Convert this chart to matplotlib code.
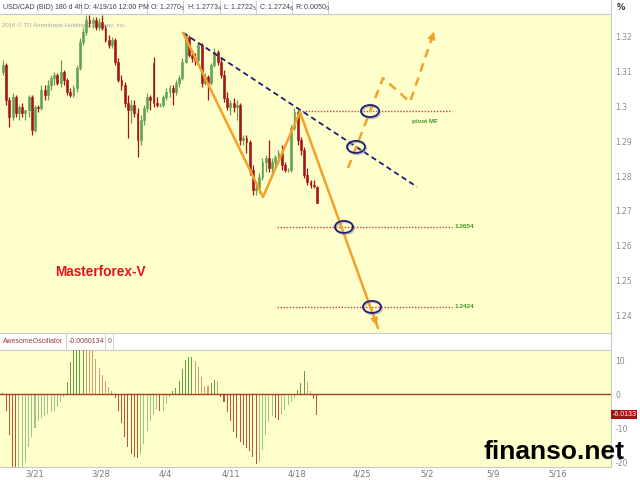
import matplotlib
matplotlib.use("Agg")
import matplotlib.pyplot as plt
import numpy as np
from matplotlib.patches import Ellipse
from matplotlib.lines import Line2D

# USD/CAD 4h candles, oldest first
opens = [1.3099, 1.3119, 1.3019, 1.2970, 1.3027, 1.2981, 1.2999, 1.2981, 1.2990, 1.3027,
         1.2933, 1.2999, 1.2996, 1.3048, 1.3033, 1.3062, 1.3082, 1.3091, 1.3068, 1.3099,
         1.3076, 1.3042, 1.3033, 1.3053, 1.3111, 1.3186, 1.3214, 1.3249, 1.3240, 1.3249,
         1.3229, 1.3243, 1.3226, 1.3191, 1.3177, 1.3191, 1.3128, 1.3076, 1.3062, 1.3010,
         1.2990, 1.3004, 1.2981, 1.2904, 1.2961, 1.2996, 1.3027, 1.3125, 1.3010, 1.3004,
         1.3004, 1.3027, 1.3042, 1.3053, 1.3042, 1.3068, 1.3082, 1.3128, 1.3200, 1.3148,
         1.3140, 1.3134, 1.3177, 1.3068, 1.3085, 1.3068, 1.3119, 1.3157, 1.3128, 1.3091,
         1.3025, 1.2999, 1.3010, 1.2999, 1.3004, 1.2904, 1.2910, 1.2898, 1.2818, 1.2760,
         1.2766, 1.2797, 1.2841, 1.2852, 1.2823, 1.2841, 1.2855, 1.2866, 1.2832, 1.2818,
         1.2818, 1.2938, 1.2984, 1.2904, 1.2875, 1.2803, 1.2783, 1.2774, 1.2770]
highs = [1.3134, 1.3125, 1.3027, 1.3039, 1.3033, 1.3004, 1.3010, 1.2990, 1.3033, 1.3033,
         1.3004, 1.3004, 1.3062, 1.3062, 1.3076, 1.3091, 1.3099, 1.3096, 1.3134, 1.3105,
         1.3082, 1.3053, 1.3062, 1.3119, 1.3197, 1.3226, 1.3263, 1.3263, 1.3257, 1.3257,
         1.3255, 1.3263, 1.3235, 1.3206, 1.3200, 1.3197, 1.3140, 1.3091, 1.3070, 1.3033,
         1.3019, 1.3019, 1.2996, 1.2976, 1.3004, 1.3039, 1.3033, 1.3142, 1.3027, 1.3010,
         1.3033, 1.3053, 1.3062, 1.3062, 1.3076, 1.3091, 1.3140, 1.3212, 1.3206, 1.3163,
         1.3154, 1.3183, 1.3183, 1.3096, 1.3091, 1.3125, 1.3168, 1.3163, 1.3140, 1.3105,
         1.3042, 1.3019, 1.3025, 1.3019, 1.3010, 1.2918, 1.2918, 1.2904, 1.2832, 1.2774,
         1.2809, 1.2852, 1.2861, 1.2904, 1.2852, 1.2861, 1.2875, 1.2889, 1.2841, 1.2823,
         1.2947, 1.2996, 1.2990, 1.2912, 1.2884, 1.2823, 1.2789, 1.2789, 1.2773]
lows = [1.3091, 1.3004, 1.2941, 1.2961, 1.2970, 1.2961, 1.2970, 1.2961, 1.2970, 1.2918,
        1.2927, 1.2984, 1.2990, 1.3019, 1.3019, 1.3048, 1.3062, 1.3062, 1.3056, 1.3062,
        1.3033, 1.3027, 1.3027, 1.3042, 1.3105, 1.3177, 1.3206, 1.3229, 1.3226, 1.3220,
        1.3220, 1.3220, 1.3186, 1.3168, 1.3168, 1.3119, 1.3070, 1.3048, 1.2999, 1.2910,
        1.2953, 1.2970, 1.2855, 1.2889, 1.2947, 1.2984, 1.2990, 1.2999, 1.2999, 1.2999,
        1.2999, 1.3019, 1.3027, 1.3004, 1.3033, 1.3056, 1.3076, 1.3125, 1.3142, 1.3128,
        1.3119, 1.3125, 1.3056, 1.3062, 1.3019, 1.3062, 1.3114, 1.3119, 1.3082, 1.3013,
        1.2990, 1.2976, 1.2984, 1.2961, 1.2889, 1.2889, 1.2866, 1.2803, 1.2746, 1.2746,
        1.2751, 1.2789, 1.2812, 1.2812, 1.2803, 1.2823, 1.2838, 1.2818, 1.2812, 1.2812,
        1.2812, 1.2933, 1.2889, 1.2861, 1.2795, 1.2774, 1.2766, 1.2766, 1.2722]
closes = [1.3119, 1.3019, 1.2970, 1.3027, 1.2981, 1.2999, 1.2981, 1.2990, 1.3027, 1.2933,
          1.2999, 1.2996, 1.3048, 1.3033, 1.3062, 1.3082, 1.3091, 1.3068, 1.3099, 1.3076,
          1.3042, 1.3033, 1.3053, 1.3111, 1.3186, 1.3214, 1.3249, 1.3240, 1.3249, 1.3229,
          1.3243, 1.3226, 1.3191, 1.3177, 1.3191, 1.3128, 1.3076, 1.3062, 1.3010, 1.2990,
          1.3004, 1.2981, 1.2904, 1.2961, 1.2996, 1.3027, 1.3019, 1.3010, 1.3004, 1.3004,
          1.3027, 1.3042, 1.3053, 1.3042, 1.3068, 1.3082, 1.3128, 1.3200, 1.3148, 1.3140,
          1.3134, 1.3177, 1.3068, 1.3085, 1.3068, 1.3119, 1.3157, 1.3128, 1.3091, 1.3025,
          1.2999, 1.3010, 1.2999, 1.3004, 1.2904, 1.2910, 1.2898, 1.2818, 1.2760, 1.2766,
          1.2797, 1.2841, 1.2852, 1.2823, 1.2841, 1.2855, 1.2866, 1.2832, 1.2818, 1.2818,
          1.2938, 1.2984, 1.2904, 1.2875, 1.2803, 1.2783, 1.2774, 1.2772, 1.2724]

# Awesome Oscillator, one value per candle (x 1e-4)
ao = [0.5, -5, -12, -22, -24, -24, -23, -20, -15.5, -12.5,
      -10, -8, -7, -6.3, -5.8, -5.3, -4.8, -3.7, -2.2, -0.8,
      3.5, 9.5, 15, 17, 18, 18, 17, 15, 13.5, 10.5,
      7.8, 5.6, 3.8, 2, 1, -1, -5, -8.5, -12.5, -15.5,
      -17.5, -18.6, -18.7, -17.5, -14.5, -10.7, -7.8, -6, -4.5, -5,
      -5, -3, -0.8, 0.8, 1.8, 4, 7.5, 10, 10.8, 10.8,
      9.8, 8, 5, 2.5, 2.3, 3.3, 4.1, 3.8, -0.8, -2.3,
      -5.3, -8, -11, -13, -14, -15, -15.8, -16.8, -18.6, -20.5,
      -20, -16.5, -12, -8.2, -6.5, -7, -7.7, -6.2, -4.5, -3.3,
      -2.2, -1.2, 1.3, 3.3, 6.8, 3.7, 1, -1.5, -6.0134]

# x axis is days counted from 3/21
date_ticks = [0, 7, 14, 21, 28, 35, 42, 49, 56]
date_labels = ['3/21', '3/28', '4/4', '4/11', '4/18', '4/25', '5/2', '5/9', '5/16']
price_ticks = [1.24, 1.25, 1.26, 1.27, 1.28, 1.29, 1.30, 1.31, 1.32]
price_labels = ['1.24', '1.25', '1.26', '1.27', '1.28', '1.29', '1.3', '1.31', '1.32']
ao_ticks = [10, 0, -10, -20]
ao_labels = ['10', '0', '-10', '-20']

# drawn analysis: (day, price)
wave_days = [15.85, 24.41, 28.37, 36.72]
wave_prices = [1.3212, 1.2740, 1.2984, 1.2363]
trend_days = [15.85, 40.90]
trend_prices = [1.3212, 1.2769]
alt_days = [33.51, 37.26, 40.15, 42.83]
alt_prices = [1.2823, 1.3082, 1.3013, 1.3223]
level_prices = [1.2987, 1.2654, 1.2424]
level_starts = [28.59, 25.91, 25.91]
level_end = 44.7
level_texts = ['pivot MF', '1.2654', '1.2424']
level_text_days = [40.4, 44.97, 44.97]
level_text_prices = [1.2956, 1.2654, 1.2424]
circle_days = [35.87, 34.37, 33.08, 36.08]
circle_prices = [1.2987, 1.2884, 1.2654, 1.2424]

first_bar = -3.43
bar_step = 0.343

W, H = 640, 480
YELLOW = '#ffffcc'
RED = '#a31515'
GREEN = '#62a052'
ORANGE = '#f4a127'
NAVY = '#1e1e78'
GRID = '#c9c9c9'
SANS = 'Liberation Sans'

def fx(px):
    return px / W

def fy(py):
    return 1 - py / H

fig = plt.figure(figsize=(6.4, 4.8), dpi=100)
ax = fig.add_axes([0, fy(333), fx(611), (333 - 14) / H])
ax2 = fig.add_axes([0, fy(467), fx(611), (467 - 350) / H])

xs = first_bar + bar_step * np.arange(len(closes))
o = np.array(opens)
c = np.array(closes)
up = c >= o
cols = np.where(up, GREEN, RED)

for a in (ax, ax2):
    a.set_facecolor(YELLOW)
    a.set_xlim(-3.747, 61.67)
    for s in ('top', 'bottom', 'right'):
        a.spines[s].set_color(GRID)
        a.spines[s].set_linewidth(0.8)
    a.spines['left'].set_visible(False)
    a.yaxis.tick_right()

# candles
ax.vlines(xs, lows, highs, colors=cols, lw=0.9, zorder=3)
ax.bar(xs, c - o, bottom=o, width=0.2, color=cols, edgecolor=cols, linewidth=0.4, zorder=3)
ax.set_ylim(1.2349, 1.3266)
ax.set_xticks([])
ax.set_yticks(price_ticks, price_labels)
ax.tick_params(axis='y', length=0, pad=3, labelsize=5.5, labelcolor='#8c8c8c')

ax.text(0.004, 0.965, '2016 \u00a9 TD Ameritrade Holding Company, Inc.', transform=ax.transAxes,
        fontsize=4.4, color='#a8a8a8', va='center', ha='left', zorder=1, family=SANS)

# levels
for lp, ls, t, td, tp in zip(level_prices, level_starts, level_texts, level_text_days, level_text_prices):
    ax.plot([ls, level_end], [lp, lp], color='#d83a3a', lw=1.0, ls=(0, (1, 1.2)), zorder=4)
    ax.text(td, tp, t, fontsize=4.6, color='#3c9c2c', fontweight='bold', va='center', ha='left',
            family=SANS)

# trend line
ax.plot(trend_days, trend_prices, color=NAVY, lw=1.3, ls=(0, (3, 2)), zorder=5)

# main wave
ax.plot(wave_days, wave_prices, color=ORANGE, lw=1.8, zorder=6, solid_capstyle='round')
tipx, tipy = wave_days[-1], wave_prices[-1]
ax.annotate('', xy=(tipx, tipy), xytext=(tipx - 0.12 * (tipx - wave_days[-2]), tipy - 0.12 * (tipy - wave_prices[-2])),
            arrowprops=dict(arrowstyle='-|>', color=ORANGE, lw=1.2, mutation_scale=11), zorder=6)

# alternative wave
ax.plot(alt_days, alt_prices, color=ORANGE, lw=1.8, ls=(0, (3.5, 2.5)), zorder=6)
tipx, tipy = alt_days[-1], alt_prices[-1]
ax.annotate('', xy=(tipx, tipy), xytext=(tipx - 0.15 * (tipx - alt_days[-2]), tipy - 0.15 * (tipy - alt_prices[-2])),
            arrowprops=dict(arrowstyle='-|>', color=ORANGE, lw=1.2, mutation_scale=11), zorder=6)

# circles
for cd, cp in zip(circle_days, circle_prices):
    ax.add_patch(Ellipse((cd + 0.12, cp - 0.0004), 1.93, 0.00345, fill=False, ec='#9a9a9a', lw=1.2, alpha=0.6, zorder=7))
    ax.add_patch(Ellipse((cd, cp), 1.93, 0.00345, fill=False, ec=NAVY, lw=1.3, zorder=8))

ax.text(fx(55) / fx(611), 0.19, 'Masterforex-V', transform=ax.transAxes, fontsize=9.8, color='#e3141c',
        fontweight='bold', va='center', ha='left', family=SANS)

# oscillator
ao_arr = np.array(ao)
prev = np.concatenate([[ao_arr[0]], ao_arr[:-1]])
rising = ao_arr >= prev
ao_cols = np.where(ao_arr >= 0,
                   np.where(rising, '#5f9e44', '#dc9a72'),
                   np.where(rising, '#9ec48a', '#c4512e'))
ax2.bar(xs, ao_arr, width=0.11, color=ao_cols, zorder=3)
ax2.axhline(0, color='#a5421e', lw=1.0, zorder=4)
ax2.set_ylim(-21.4, 13.0)
ax2.set_yticks(ao_ticks, ao_labels)
ax2.set_xticks(date_ticks, date_labels)
ax2.tick_params(axis='y', length=0, pad=3, labelsize=5.5, labelcolor='#8c8c8c')
ax2.tick_params(axis='x', length=0, pad=1.5, labelsize=6, labelcolor='#7a7a7a')
ax2.text(1.002, ao[-1], '-6.0133', transform=ax2.get_yaxis_transform(), fontsize=5, color='white',
         va='center', ha='left', family=SANS,
         bbox=dict(boxstyle='square,pad=0.12', fc='#a01414', ec='none'))

# header strips
hdr = [('USD/CAD (BID) 180 d 4h', 3), ('D: 4/19/16 12:00 PM', 84), ('O: 1.2770$_5$', 150),
       ('H: 1.2773$_4$', 187), ('L: 1.2722$_5$', 223), ('C: 1.2724$_6$', 259), ('R: 0.0050$_0$', 295)]
for t, x in hdr:
    fig.text(fx(x), fy(7.5), t, fontsize=5.0, color='#404040', va='center', ha='left', family=SANS)
for x in (81, 147, 183, 220, 256, 292, 328):
    fig.add_artist(Line2D([fx(x), fx(x)], [fy(1), fy(14)], color='#d0d0d0', lw=0.7))
fig.add_artist(Line2D([0, fx(611)], [fy(14), fy(14)], color=GRID, lw=0.8))
fig.add_artist(Line2D([fx(611), fx(611)], [fy(0), fy(14)], color=GRID, lw=0.8))
fig.add_artist(Line2D([fx(611), fx(611)], [fy(333), fy(350)], color=GRID, lw=0.8))
fig.text(fx(617), fy(8), '%', fontsize=6, color='#303030', va='center', ha='left', fontweight='bold')

osc = [('AwesomeOscillator', 3, '#a53c3c'), ('-0.0060134', 69, '#8a4040'), ('0', 108, '#7a5a3a')]
for t, x, col in osc:
    fig.text(fx(x), fy(341.5), t, fontsize=5.0, color=col, va='center', ha='left', family=SANS)
for x in (66, 105, 113):
    fig.add_artist(Line2D([fx(x), fx(x)], [fy(334), fy(349)], color='#d0d0d0', lw=0.7))

fig.text(fx(484), fy(452), 'finanso.net', fontsize=19, color='black', fontweight='bold',
         va='center', ha='left', family=SANS)

fig.savefig('out.png', dpi=100)
